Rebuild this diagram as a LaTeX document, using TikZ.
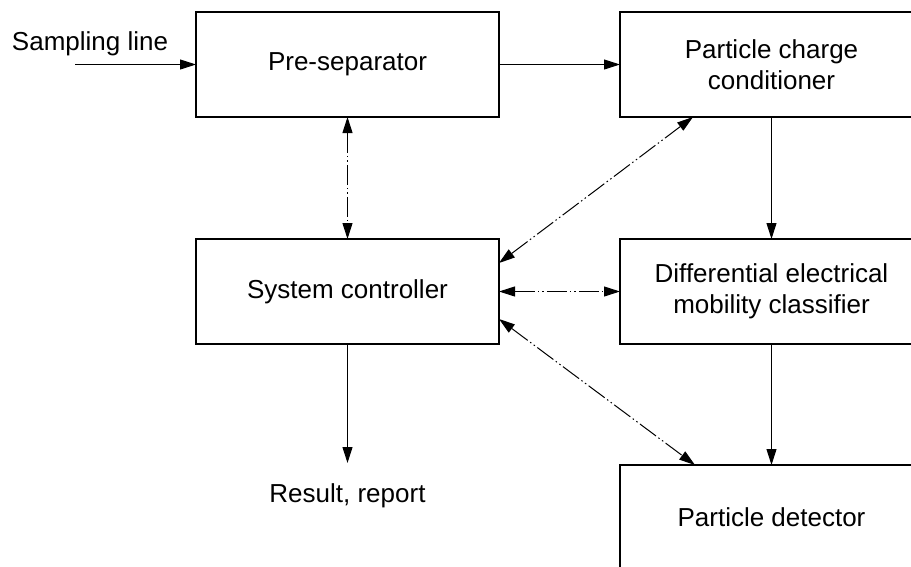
\documentclass[tikz,border=0pt]{standalone}
\usepackage{fontspec}
\setmainfont{Liberation Sans}
\usetikzlibrary{arrows.meta,calc}
\begin{document}
\begin{tikzpicture}[x=1pt,y=1pt,
  box/.style={draw,line width=2.2pt,minimum width=303pt,minimum height=105pt,inner sep=0pt,outer sep=0pt,align=center,font=\fontsize{26}{31}\selectfont},
  lbl/.style={inner sep=0pt,outer sep=0pt,font=\fontsize{26}{31}\selectfont},
  flow/.style={line width=1pt,-{Triangle[length=16pt,width=10pt]}},
  ctrl/.style={line width=1pt,{Triangle[length=16pt,width=10pt]}-{Triangle[length=16pt,width=10pt]},dash pattern=on 20pt off 3pt on 1.5pt off 3pt on 1.5pt off 3pt}]
\clip (0,0) rectangle (911,-566);
\fill[white] (0,0) rectangle (911,-566);
\node[box] (pre) at (347.5,-64.5) {Pre-separator};
\node[box] (pcc) at (771.5,-64.5) {Particle charge\\conditioner};
\node[box] (sys) at (347.5,-291.5) {System controller};
\node[box] (demc) at (771.5,-291.5) {Differential electrical\\mobility classifier};
\node[box] (det) at (771.5,-517.5) {Particle detector};
\node[lbl,anchor=base west] (samp) at (12,-50) {Sampling line};
\node[lbl,anchor=base] (res) at (347.5,-502) {Result, report};
\coordinate (sampin) at (75,-64.5);
\coordinate (resend) at (347.5,-463);
\draw[flow] (sampin) -- (pre.west);
\draw[flow] (pre.east) -- (pcc.west);
\draw[flow] (pcc.south) -- (demc.north);
\draw[flow] (demc.south) -- (det.north);
\draw[flow] (sys.south) -- (resend);
\draw[ctrl] (pre.south) -- (sys.north);
\draw[ctrl] ([yshift=28.5pt]sys.east) -- ([xshift=-78.5pt]pcc.south);
\draw[ctrl] (sys.east) -- (demc.west);
\draw[ctrl] ([yshift=-27.5pt]sys.east) -- ([xshift=-76.5pt]det.north);
\end{tikzpicture}
\end{document}
